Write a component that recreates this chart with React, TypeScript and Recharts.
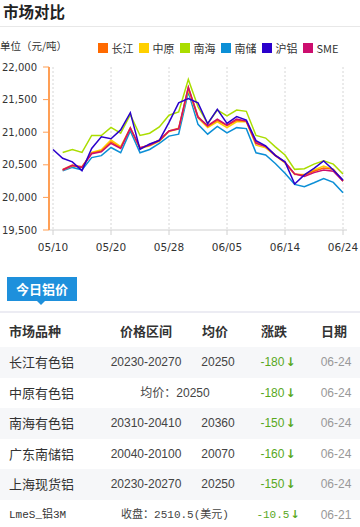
import React from 'react';
import { LineChart, Line, XAxis, YAxis, CartesianGrid, Legend } from 'recharts';

const dates = ['05/10','05/13','05/14','05/15','05/16','05/17','05/20','05/21','05/22','05/23','05/24','05/27','05/28','05/29','05/30','05/31','06/03','06/04','06/05','06/06','06/10','06/11','06/12','06/13','06/14','06/17','06/18','06/19','06/20','06/21','06/24'];

const changjiang = [null,20430,20495,20470,20680,20710,20850,20760,21070,20760,20810,20880,21020,21060,21690,21240,21090,21180,21100,21180,21170,20850,20780,20650,20540,20360,20340,20400,20450,20430,20250];
const zhongyuan = [null,20420,20480,20460,20690,20730,20880,20780,21060,20750,20790,20860,21010,21050,21650,21220,21070,21160,21070,21160,21160,20800,20760,20640,20530,20350,20350,20420,20480,20430,20250];
const nanhai = [null,20690,20735,20690,20950,20950,21075,20985,21270,20950,20985,21080,21260,21310,21810,21390,21130,21340,21250,21340,21320,20950,20910,20775,20650,20430,20440,20510,20560,20510,20360];
const nanchu = [null,20410,20460,20420,20610,20640,20765,20685,21020,20685,20735,20830,20940,20970,21615,21120,20970,21090,20990,21070,21055,20685,20650,20520,20370,20200,20165,20225,20290,20230,20070];
const hulv = [20735,20600,20545,20410,20750,20930,20900,21035,21300,20735,20820,20875,21150,21450,21515,21450,21130,21350,21135,21240,21185,20870,20790,20645,20545,20205,20345,20445,20560,20420,20265];
const sme = [null,20420,20490,20460,20670,20700,20830,20750,21060,20760,20800,20870,21020,21050,21690,21230,21100,21200,21110,21200,21170,20830,20780,20640,20540,20360,20320,20380,20420,20400,20250];

const seriesNames = ['长江','中原','南海','南储','沪铝','SME'];
const seriesColors = ['#FF6A00','#FFD000','#AADD00','#0C8FD6','#2A00CC','#CC0E6E'];
const seriesValues = [changjiang, zhongyuan, nanhai, nanchu, hulv, sme];
const drawOrder = [2, 3, 1, 0, 5, 4];

const yTicks = [19500, 20000, 20500, 21000, 21500, 22000];

const markets = ['长江有色铝','中原有色铝','南海有色铝','广东南储铝','上海现货铝','LmeS_铝3M'];
const ranges = ['20230-20270','','20310-20410','20040-20100','20230-20270',''];
const avgs = ['20250','均价：20250','20360','20070','20250','收盘：2510.5(美元)'];
const changes = ['-180','-180','-150','-160','-150','-10.5'];
const tradeDates = ['06-24','06-24','06-24','06-24','06-24','06-21'];
const headers = ['市场品种','价格区间','均价','涨跌','日期'];

const chartData = dates.map((d, i) => {
  const row: any = { date: d };
  seriesNames.forEach((n, k) => { row[n] = seriesValues[k][i]; });
  return row;
});

const CJK = "'Noto Sans CJK SC', sans-serif";
const NUM = "'Liberation Sans', Arial, 'Noto Sans CJK SC', sans-serif";
const MONO = "'Liberation Mono', 'Noto Sans CJK SC', monospace";

const renderLegend = () => (
  <div style={{ display: 'flex', fontFamily: CJK, fontSize: 11, color: '#333' }}>
    {seriesNames.map((n, k) => (
      <div key={n} style={{ display: 'flex', alignItems: 'center', marginRight: 5.5 }}>
        <div style={{ width: 10, height: 10, background: seriesColors[k], marginRight: 3.5 }} />
        <span style={{ lineHeight: '12px' }}>{n}</span>
      </div>
    ))}
  </div>
);

const headerX = [9, 146, 215, 274, 334];

export default function App() {
  return (
    <div style={{ position: 'absolute', left: 0, top: 0, width: 360, height: 527, background: '#fff', overflow: 'hidden', fontFamily: CJK, color: '#333' }}>
      <div style={{ position: 'absolute', left: 3, top: 0, fontSize: 15.5, fontWeight: 'bold', color: '#222' }}>市场对比</div>
      <div style={{ position: 'absolute', left: 0, top: 26, width: 360, height: 1, background: '#e8e8e8' }} />
      <div style={{ position: 'absolute', left: 0, top: 39, fontSize: 10.5, lineHeight: '14px', whiteSpace: 'nowrap' }}>单位（元/吨）</div>

      <div style={{ position: 'absolute', left: 0, top: 0 }}>
        <LineChart width={360} height={262} data={chartData} margin={{ top: 67, right: 13, left: 0, bottom: 0 }}>
          <CartesianGrid vertical horizontal={false} stroke="#d6d6d6" strokeDasharray="2 2" syncWithTicks />
          <XAxis dataKey="date" interval={5} padding={{ left: 4, right: 4 }} height={32}
            axisLine={{ stroke: '#d0d0d0' }} tickLine={{ stroke: '#d0d0d0' }} tickSize={5} tickMargin={9}
            tick={{ fontSize: 10.5, fill: '#333', fontFamily: 'DejaVu Sans' }} />
          <YAxis domain={[19500, 22000]} ticks={yTicks} width={49} interval={0}
            axisLine={{ stroke: '#FF9F55', strokeWidth: 2 }} tickLine={{ stroke: '#FF9F55' }} tickSize={6} tickMargin={6}
            tickFormatter={(v: number) => v.toLocaleString('en-US')}
            tick={{ fontSize: 10, fill: '#333', fontFamily: 'DejaVu Sans' }} />
          <Legend verticalAlign="middle" align="center" layout="horizontal" content={renderLegend}
            wrapperStyle={{ position: 'absolute', top: 42, left: 98, width: 'auto', height: 12 }} />
          {drawOrder.map((k) => (
            <Line key={seriesNames[k]} type="linear" dataKey={seriesNames[k]} stroke={seriesColors[k]}
              strokeWidth={1.5} dot={false} activeDot={false} isAnimationActive={false} />
          ))}
        </LineChart>
      </div>

      {/* tab */}
      <div style={{ position: 'absolute', left: 7, top: 277, width: 70, height: 24, background: '#1E90DC', color: '#fff', fontSize: 13, fontWeight: 'bold', lineHeight: '24px', textAlign: 'center' }}>今日铝价</div>
      <div style={{ position: 'absolute', left: 37, top: 301, width: 0, height: 0, borderLeft: '4px solid transparent', borderRight: '4px solid transparent', borderTop: '4px solid #1E90DC' }} />
      <div style={{ position: 'absolute', left: 0, top: 311, width: 360, height: 2, background: '#ececf3' }} />

      {headers.map((h, i) => (
        <div key={h} style={{ position: 'absolute', top: 322, left: i === 0 ? headerX[0] : headerX[i] - 40, width: 80, textAlign: i === 0 ? 'left' : 'center', fontSize: 13, fontWeight: 'bold', lineHeight: '18px', color: '#333' }}>{h}</div>
      ))}

      {markets.map((m, i) => {
        const top = 347 + i * 30.5;
        const isLme = i === 5;
        const merged = ranges[i] === '';
        return (
          <div key={m} style={{ position: 'absolute', left: 0, top, width: 360, height: 30.5, background: i % 2 === 0 ? '#f6f7f9' : '#fff' }}>
            <div style={{ position: 'absolute', left: 9, top: 7, fontSize: isLme ? 11 : 13, lineHeight: '16px', fontFamily: isLme ? MONO : CJK, color: '#333', whiteSpace: 'nowrap' }}>{m}</div>
            {merged ? (
              <div style={{ position: 'absolute', left: 175 - 70, width: 140, top: 7, textAlign: 'center', fontSize: isLme ? 11 : 12, lineHeight: '16px', fontFamily: isLme ? MONO : NUM, color: '#444', whiteSpace: 'nowrap' }}>{avgs[i]}</div>
            ) : (
              <>
                <div style={{ position: 'absolute', left: 146 - 45, width: 90, top: 7, textAlign: 'center', fontSize: 12, lineHeight: '16px', fontFamily: NUM, color: '#444' }}>{ranges[i]}</div>
                <div style={{ position: 'absolute', left: 218 - 25, width: 50, top: 7, textAlign: 'center', fontSize: 12, lineHeight: '16px', fontFamily: NUM, color: '#444' }}>{avgs[i]}</div>
              </>
            )}
            <div style={{ position: 'absolute', left: 278 - 30, width: 60, top: 7, textAlign: 'center', fontSize: isLme ? 11 : 12, lineHeight: '16px', fontFamily: isLme ? MONO : NUM, color: '#58A81E', whiteSpace: 'nowrap' }}>
              {changes[i]}<span style={{ fontWeight: 'bold', fontFamily: 'DejaVu Sans', marginLeft: 1 }}>↓</span>
            </div>
            <div style={{ position: 'absolute', left: 336 - 25, width: 50, top: 7, textAlign: 'center', fontSize: 12, lineHeight: '16px', fontFamily: NUM, color: '#999' }}>{tradeDates[i]}</div>
          </div>
        );
      })}
    </div>
  );
}
